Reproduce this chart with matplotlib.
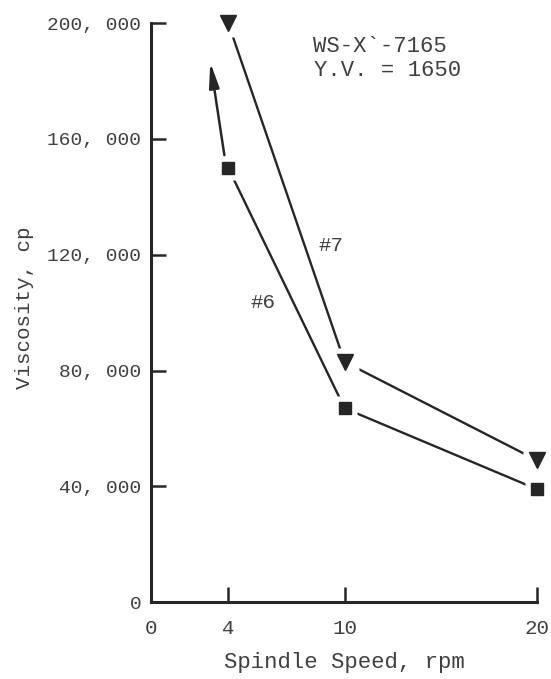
"""Viscosity vs spindle speed, WS-X-7165."""

import numpy as np
import matplotlib
matplotlib.use("Agg")
import matplotlib.pyplot as plt
from matplotlib.ticker import FuncFormatter

speed = [4, 10, 20]
visc_7 = [200000, 83000, 49000]
visc_6 = [150000, 67000, 39000]
x_ticks = [0, 4, 10, 20]
y_ticks = [0, 40000, 80000, 120000, 160000, 200000]

# the original x axis is hand-spaced, not linear
tick_pos = [0.0, 77.0, 193.0, 385.0]

INK = "#262626"
TXT = "#404040"
W, H = 551, 679
plt.rcParams["font.family"] = ["Liberation Mono", "DejaVu Sans Mono"]


def fwd(x):
    x = np.asarray(x, dtype=float)
    return np.interp(x, x_ticks, tick_pos) + \
        np.where(x > 20, (x - 20) * 19.2, 0) + np.where(x < 0, x * 19.2, 0)


def inv(p):
    p = np.asarray(p, dtype=float)
    return np.interp(p, tick_pos, x_ticks) + \
        np.where(p > 385, (p - 385) / 19.2, 0) + np.where(p < 0, p / 19.2, 0)


def px(x, y):
    # pixel position from top-left -> figure fraction
    return x / W, 1 - y / H


fig = plt.figure(figsize=(W / 100, H / 100), dpi=100)
ax = fig.add_axes([0.274, 0.113, 0.701, 0.853])
ax.set_xscale("function", functions=(fwd, inv))
ax.set_xlim(0, 20)
ax.set_ylim(0, 200000)

for vals, mk, ms in [(visc_7, "v", 11), (visc_6, "s", 8.5)]:
    ax.plot(speed, vals, color=INK, lw=1.7, zorder=2)
    ax.plot(speed, vals, ls="none", marker="s", ms=ms + 9, mfc="white",
            mec="none", clip_on=False, zorder=3)
    ax.plot(speed, vals, ls="none", marker=mk, ms=ms, mfc=INK, mec=INK,
            clip_on=False, zorder=4)

ax.annotate("", xy=(3.07, 186500), xytext=(3.8, 154400),
            arrowprops=dict(arrowstyle="-|>,head_length=1.5,head_width=0.3",
                            color=INK, lw=1.8, shrinkA=0, shrinkB=0))

ax.spines["top"].set_visible(False)
ax.spines["right"].set_visible(False)
for s in ("left", "bottom"):
    ax.spines[s].set_linewidth(2.2)
    ax.spines[s].set_color(INK)

ax.set_xticks(x_ticks)
ax.set_yticks(y_ticks)
ax.yaxis.set_major_formatter(FuncFormatter(
    lambda v, p: "0" if v == 0 else f"{int(v) // 1000}, 000"))
ax.tick_params(direction="in", length=11, width=1.8, color=INK,
               labelsize=14, labelcolor=TXT)
ax.tick_params(axis="x", pad=12, labelsize=15)
ax.tick_params(axis="y", pad=7)
ax.minorticks_off()

ax.set_xlabel("Spindle Speed, rpm", fontsize=16, color=TXT, labelpad=10)
fig.text(*px(25, 308), "Viscosity, cp", rotation=90, fontsize=15,
         color=TXT, ha="center", va="center")

fig.text(*px(313, 46), "WS-X`-7165", fontsize=16, color=TXT, va="center")
fig.text(*px(314, 70), "Y.V. = 1650", fontsize=16, color=TXT, va="center")
fig.text(*px(331, 245), "#7", fontsize=15, color=TXT, ha="center", va="center")
fig.text(*px(263, 303), "#6", fontsize=15, color=TXT, ha="center", va="center")

fig.savefig("out.png", dpi=100)
